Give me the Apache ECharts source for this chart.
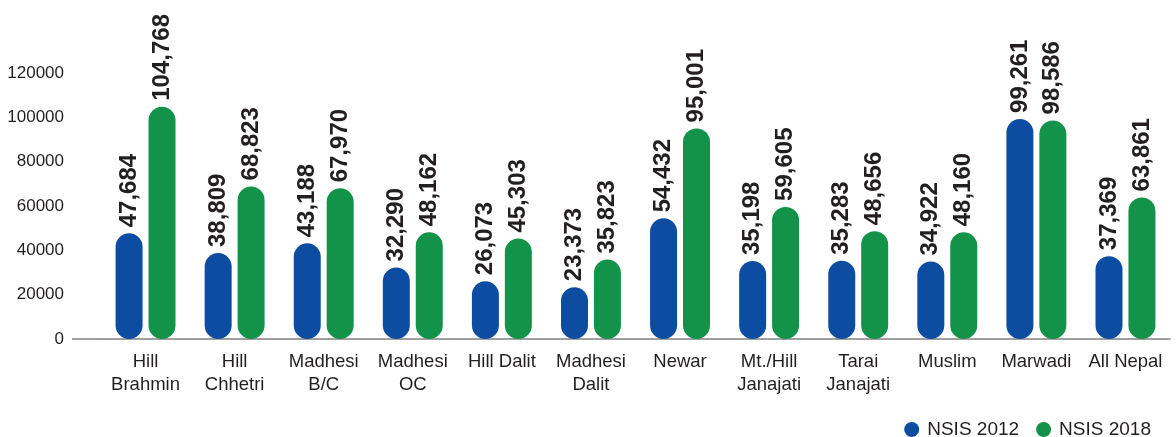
<!DOCTYPE html>
<html>
<head>
<meta charset="utf-8">
<script src="https://cdn.jsdelivr.net/npm/echarts@6/dist/echarts.min.js"></script>
<style>
  html, body { margin: 0; padding: 0; background: #fff; }
  #chart { width: 1176px; height: 437px; }
</style>
</head>
<body>
<div id="chart"></div>
<script>
const categories = ['Hill\nBrahmin', 'Hill\nChhetri', 'Madhesi\nB/C', 'Madhesi\nOC', 'Hill Dalit',
  'Madhesi\nDalit', 'Newar', 'Mt./Hill\nJanajati', 'Tarai\nJanajati', 'Muslim', 'Marwadi', 'All Nepal'];
const nsis2012 = [47684, 38809, 43188, 32290, 26073, 23373, 54432, 35198, 35283, 34922, 99261, 37369];
const nsis2018 = [104768, 68823, 67970, 48162, 45303, 35823, 95001, 59605, 48656, 48160, 98586, 63861];

const chart = echarts.init(document.getElementById('chart'));

const label = {
  show: true,
  position: 'top',
  rotate: 90,
  align: 'left',
  verticalAlign: 'middle',
  distance: 6,
  fontFamily: 'Liberation Sans',
  fontWeight: 'bold',
  fontSize: 24,
  color: '#231f20',
  formatter: p => p.value.toLocaleString('en-US')
};

const option = {
  animation: false,
  textStyle: { fontFamily: 'Liberation Sans' },
  grid: { left: 101, right: 6, top: 73, bottom: 98 },
  legend: {
    right: 20,
    top: 415,
    icon: 'circle',
    itemWidth: 21,
    itemHeight: 15,
    itemGap: 17,
    textStyle: { fontSize: 19, color: '#231f20' },
    data: ['NSIS 2012', 'NSIS 2018']
  },
  xAxis: {
    type: 'category',
    data: categories,
    axisTick: { show: false },
    axisLine: { lineStyle: { color: '#808080', width: 1.5 } },
    axisLabel: { interval: 0, fontSize: 18.5, color: '#231f20', lineHeight: 23, margin: 11 }
  },
  yAxis: {
    type: 'value',
    min: 0,
    max: 120000,
    interval: 20000,
    splitLine: { show: false },
    axisLine: { show: false },
    axisLabel: { fontSize: 17, color: '#231f20', margin: 37, formatter: v => String(v) }
  },
  series: [
    {
      name: 'NSIS 2012',
      type: 'bar',
      data: nsis2012,
      barWidth: 27,
      barGap: '22%',
      itemStyle: { color: '#0c4da2', borderRadius: 13.5 },
      label: label
    },
    {
      name: 'NSIS 2018',
      type: 'bar',
      data: nsis2018,
      barWidth: 27,
      itemStyle: { color: '#13924a', borderRadius: 13.5 },
      label: label
    }
  ],
  graphic: [{
    type: 'line',
    shape: { x1: 72, y1: 339, x2: 101, y2: 339 },
    style: { stroke: '#808080', lineWidth: 1.5 }
  }]
};

chart.setOption(option);
</script>
</body>
</html>
